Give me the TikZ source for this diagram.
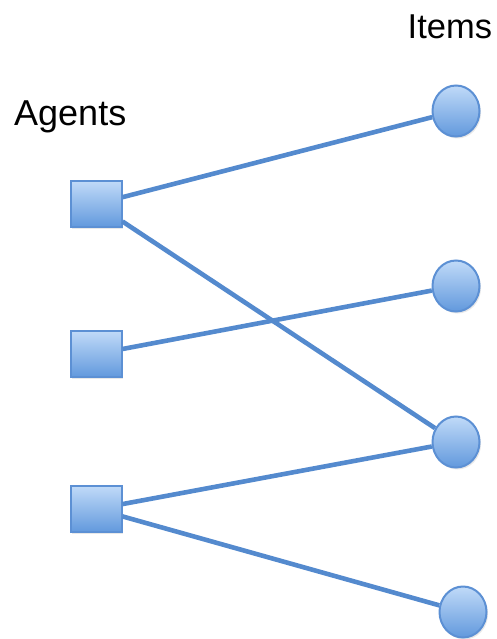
\documentclass[tikz,border=0pt]{standalone}
\usepackage{fontspec}
\setmainfont{Liberation Sans}
\usetikzlibrary{shapes.geometric,shadows}
\definecolor{edgeblue}{RGB}{84,138,206}
\definecolor{rimblue}{RGB}{92,144,212}
\definecolor{topblue}{RGB}{192,218,248}
\definecolor{botblue}{RGB}{98,153,221}
\tikzset{
  agent/.style={draw=rimblue, line width=2pt, rectangle, minimum width=51pt, minimum height=46pt,
    inner sep=0pt, top color=topblue, bottom color=botblue,
    drop shadow={opacity=0.18, shadow xshift=1.5pt, shadow yshift=-2pt}},
  item/.style={draw=rimblue, line width=2pt, ellipse, minimum width=47pt, minimum height=51pt,
    inner sep=0pt, top color=topblue, bottom color=botblue,
    drop shadow={opacity=0.18, shadow xshift=1.5pt, shadow yshift=-2pt}},
  link/.style={draw=edgeblue, line width=4.6pt},
  lbl/.style={inner sep=0pt, anchor=base west, text=black}
}
\begin{document}
\begin{tikzpicture}[x=1pt,y=-1pt]
\useasboundingbox (0,0) rectangle (497,639);
\node[lbl, font=\fontsize{36}{40}\selectfont] (agentslbl) at (14,126) {Agents};
\node[lbl, font=\fontsize{34.5}{40}\selectfont] (itemslbl) at (407.5,38.3) {Items};
\node[agent] (S1) at (96,204) {};
\node[agent] (S2) at (96,354) {};
\node[agent] (S3) at (96,509) {};
\node[item] (C1) at (456,111) {};
\node[item] (C2) at (456,286) {};
\node[item] (C3) at (456,442) {};
\node[item] (C4) at (463,612) {};
\draw[link] (S1) -- (C1);
\draw[link] (S1) -- (C3);
\draw[link] (S2) -- (C2);
\draw[link] (S3) -- (C3);
\draw[link] (S3) -- (C4);
\end{tikzpicture}
\end{document}
